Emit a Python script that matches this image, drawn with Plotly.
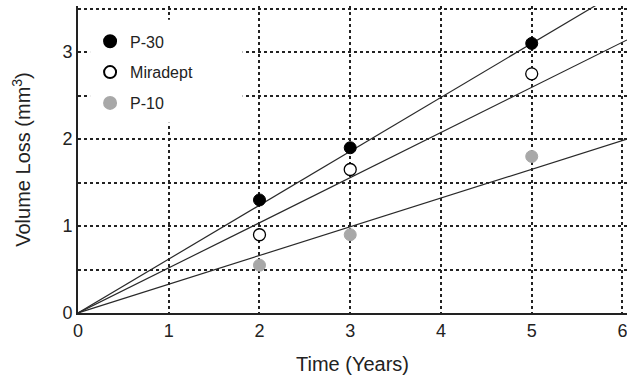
import plotly.graph_objects as go

years = [2, 3, 5]
p30 = [1.3, 1.9, 3.1]
miradept = [0.9, 1.65, 2.75]
p10 = [0.55, 0.9, 1.8]

fit_x = [0, 6.05]
p30_fit = [0, 3.75]
miradept_fit = [0, 3.14]
p10_fit = [0, 2.0]

x_ticks = [0, 1, 2, 3, 4, 5, 6]
y_ticks = [0, 1, 2, 3]

font = "Liberation Sans, Arial, Helvetica, sans-serif"
line_style = dict(color="#2a2a2a", width=1.2)

fig = go.Figure()
for fy in [p30_fit, miradept_fit, p10_fit]:
    fig.add_trace(go.Scatter(x=fit_x, y=fy, mode="lines", line=line_style,
                             showlegend=False, hoverinfo="skip", cliponaxis=True))

fig.add_trace(go.Scatter(x=years, y=p30, mode="markers", name="P-30", legendgroup="a",
                         marker=dict(size=12, color="black", line=dict(color="black", width=1))))
fig.add_trace(go.Scatter(x=years, y=miradept, mode="markers", name="Miradept", legendgroup="b",
                         marker=dict(size=12, color="white", line=dict(color="black", width=1.3))))
fig.add_trace(go.Scatter(x=years, y=p10, mode="markers", name="P-10", legendgroup="c",
                         marker=dict(size=12, color="#a8a8a8", line=dict(color="#a8a8a8", width=1))))

# white box behind the legend that interrupts the grid
fig.add_shape(type="rect", xref="paper", yref="paper", x0=0.022, x1=0.30, y0=0.62, y1=0.955,
              fillcolor="white", line=dict(width=0), layer="above")

fig.update_layout(
    width=627, height=384,
    margin=dict(l=78, r=0, t=6, b=71),
    paper_bgcolor="white", plot_bgcolor="white",
    font=dict(family=font, color="#222", size=16),
    legend=dict(x=0.022, y=0.94, xanchor="left", yanchor="top",
                bgcolor="rgba(0,0,0,0)", font=dict(size=16, color="#222"),
                tracegroupgap=7, itemsizing="constant"),
    xaxis=dict(range=[0, 6.05], tickvals=x_ticks, showgrid=True, griddash="dot",
               gridcolor="#222", gridwidth=1.5, showline=True, linecolor="#222",
               linewidth=2, zeroline=False, ticks="", automargin=False,
               tickfont=dict(size=18), ticklabeloverflow="allow",
               title=dict(text="Time (Years)", font=dict(size=20), standoff=17)),
    yaxis=dict(range=[0, 3.53], tickvals=y_ticks,
               minor=dict(tickvals=[0.5, 1.5, 2.5, 3.5], showgrid=True, griddash="dot",
                          gridcolor="#222", gridwidth=1.5),
               showgrid=True, griddash="dot", gridcolor="#222", gridwidth=1.5,
               showline=True, linecolor="#222", linewidth=2, zeroline=False,
               ticks="", automargin=False, tickfont=dict(size=18),
               title=dict(text="Volume Loss (mm<sup>3</sup>)", font=dict(size=20), standoff=26)),
)

fig.write_html("out.html", config={"displayModeBar": False},
               post_script="document.body.style.margin='0';")
